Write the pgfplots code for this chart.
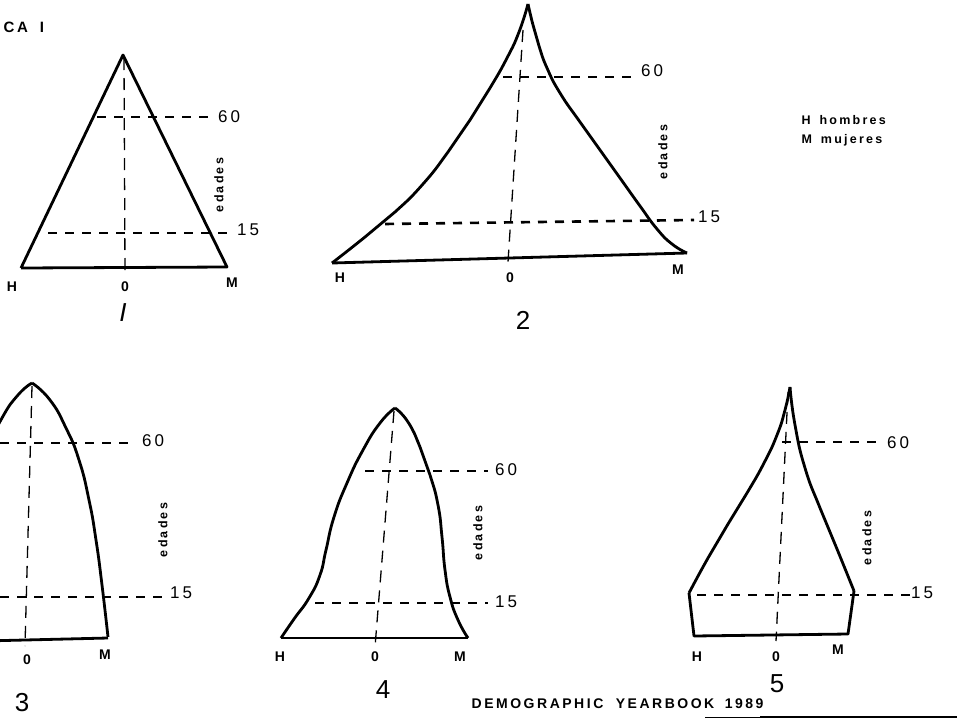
\documentclass[border=0pt]{standalone}
\usepackage{fontspec}
\setmainfont{Liberation Sans}
\newfontfamily\spaced[LetterSpace=18]{Liberation Sans}
\usepackage{pgfplots}
\pgfplotsset{compat=1.18}

% outline of each pyramid, in pixels of the scanned page (y downwards)
\pgfplotsset{
  outline/.style={black, line width=2.8pt, mark=none, line join=round},
  curve/.style={outline, smooth, tension=0.9},
  level/.style={black, line width=2.6pt, mark=none, dash pattern=on 9pt off 8pt},
  axisline/.style={black, line width=1.3pt, mark=none, dash pattern=on 12pt off 8pt},
}
\newcommand{\lbl}[1]{{\fontsize{14}{14}\selectfont\bfseries #1}}
\newcommand{\age}[1]{{\fontsize{17}{17}\selectfont\spaced #1}}
\newcommand{\ed}{{\fontsize{12.5}{12.5}\selectfont\bfseries\spaced edades}}
\newcommand{\num}[1]{{\fontsize{26}{26}\selectfont #1}}

\begin{document}
\begin{tikzpicture}
\begin{axis}[
    scale only axis,
    width=957pt, height=720pt,
    xmin=0, xmax=957, ymin=0, ymax=720,
    y dir=reverse,
    axis lines=none,
    clip=true,
]
% ---- 1 ----
\addplot[outline] coordinates {(21,268) (123,55) (227,267) (21,268)};
\addplot[axisline] coordinates {(124,58) (125,272)};
\addplot[level] coordinates {(97,117) (210,117)};
\addplot[level] coordinates {(48,233) (232,233)};

% ---- 2 ----
\addplot[curve] coordinates {(332,263) (365,237) (395,212) (423,184) (448,152) (470,120) (490,88) (507,58) (519,32) (528,4)};
\addplot[curve] coordinates {(528,4) (533,25) (539,46) (547,68) (560,93) (580,122) (600,150) (620,178) (640,206) (657,229) (672,244) (687,253)};
\addplot[outline] coordinates {(332,263) (687,253)};
\addplot[axisline] coordinates {(523,30) (508,262)};
\addplot[level] coordinates {(503,77) (636,77)};
\addplot[level] coordinates {(385,224) (694,220)};

% ---- 3 ----
\addplot[curve] coordinates {(-58,638) (-46,580) (-37,530) (-27,490) (-14,452) (2,418) (18,395) (32,383)};
\addplot[curve] coordinates {(32,383) (50,400) (66,428) (79,460) (89,500) (96,540) (102,585) (108,637)};
\addplot[outline] coordinates {(-58,642) (108,638)};
\addplot[axisline] coordinates {(32,386) (25,646)};
\addplot[level] coordinates {(0,443) (135,443)};
\addplot[level] coordinates {(0,597) (168,597)};

% ---- 4 ----
\addplot[curve] coordinates {(395,408) (380,423) (363,450) (347,483) (334,517) (326,550) (320,575) (309,598) (294,619) (281,638)};
\addplot[curve] coordinates {(395,408) (408,422) (420,447) (430,475) (438,505) (442,537) (445,570) (450,597) (458,620) (468,638)};
\addplot[outline] coordinates {(281,638) (468,638)};
\addplot[axisline] coordinates {(394,411) (375,647)};
\addplot[level] coordinates {(365,471) (488,471)};
\addplot[level] coordinates {(315,603) (488,603)};

% ---- 5 ----
\addplot[curve] coordinates {(790,387) (785,410) (777,435) (764,463) (747,493) (728,524) (708,558) (689,593)};
\addplot[curve] coordinates {(790,387) (795,425) (805,468) (820,508) (837,549) (854,591)};
\addplot[outline] coordinates {(689,593) (694,636) (848,634) (854,591)};
\addplot[axisline] coordinates {(788,392) (776,641)};
\addplot[level] coordinates {(782,442) (880,442)};
\addplot[level] coordinates {(697,595) (914,595)};

% rule under the source line
\addplot[black, line width=1pt, mark=none] coordinates {(705,717) (957,717)};
\addplot[black, line width=2.4pt, mark=none] coordinates {(760,717) (957,717)};

% ---- labels ----
\node[anchor=west] at (0,27) {\fontsize{15}{15}\selectfont\bfseries\spaced CA\hspace{12pt}I};

\node at (12,287) {\lbl{H}};
\node at (125,287) {\lbl{0}};
\node at (232,283) {\lbl{M}};
\node at (229,117) {\age{60}};
\node at (248,230) {\age{15}};
\node[rotate=90] at (219,185) {\ed};
\node at (123,313) {\num{\itshape I}};

\node at (340,278) {\lbl{H}};
\node at (510,278) {\lbl{0}};
\node at (678,270) {\lbl{M}};
\node at (652,71) {\age{60}};
\node at (709,217) {\age{15}};
\node[rotate=90] at (663,152) {\ed};
\node at (523,320) {\num{2}};

\node at (27,660) {\lbl{0}};
\node at (105,655) {\lbl{M}};
\node at (153,441) {\age{60}};
\node at (181,593) {\age{15}};
\node[rotate=90] at (163,530) {\ed};
\node at (22,703) {\num{3}};

\node at (280,657) {\lbl{H}};
\node at (375,657) {\lbl{0}};
\node at (460,657) {\lbl{M}};
\node at (506,470) {\age{60}};
\node at (506,602) {\age{15}};
\node[rotate=90] at (478,533) {\ed};
\node at (383,690) {\num{4}};

\node at (697,657) {\lbl{H}};
\node at (776,657) {\lbl{0}};
\node at (838,650) {\lbl{M}};
\node at (898,443) {\age{60}};
\node at (922,593) {\age{15}};
\node[rotate=90] at (867,538) {\ed};
\node at (777,684) {\num{5}};

\node[anchor=west] at (798,120) {\fontsize{12.5}{12.5}\selectfont\bfseries\spaced H\hspace{9pt}hombres};
\node[anchor=west] at (798,140) {\fontsize{12.5}{12.5}\selectfont\bfseries\spaced M\hspace{9pt}mujeres};

\node[anchor=base east] at (767,708) {\fontsize{14}{14}\selectfont\bfseries\spaced DEMOGRAPHIC\hspace{6pt} YEARBOOK\hspace{4pt} 1989};
\end{axis}
\pgfresetboundingbox
\path (current axis.south west) rectangle (current axis.north east);
\end{tikzpicture}
\end{document}
